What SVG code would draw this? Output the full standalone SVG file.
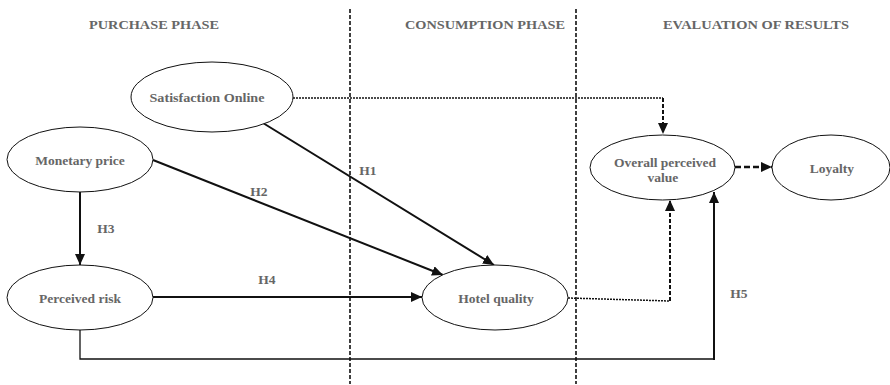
<svg xmlns="http://www.w3.org/2000/svg" width="890" height="385" viewBox="0 0 890 385">
<defs>
<marker id="ah" markerUnits="userSpaceOnUse" markerWidth="12" markerHeight="10" refX="11" refY="5" orient="auto"><path d="M0,0 L11,5 L0,10 Z" fill="#111"/></marker>
</defs>
<style>
.node ellipse{fill:#fff;stroke:#111;stroke-width:1}
text{font-family:"Liberation Serif","Times New Roman",serif;font-weight:bold;fill:#666;text-anchor:middle}
.lbl{font-size:13.5px}
.hdr{font-size:12.5px}
.hyp{font-size:13.5px}
.div{stroke:#111;stroke-width:1.6;stroke-dasharray:4 2;fill:none}
.solid{stroke:#111;stroke-width:2;fill:none}
.thin{stroke:#111;stroke-width:1.3;fill:none}
.dot{stroke:#111;stroke-width:1.5;stroke-dasharray:2 1;fill:none}
.dash{stroke:#111;stroke-width:2;stroke-dasharray:4 2;fill:none}
.dash2{stroke:#111;stroke-width:2.5;stroke-dasharray:6 3;fill:none}
</style>
<rect width="890" height="385" fill="#fff"/>
<g id="headers">
<text class="hdr" x="154" y="29" textLength="130" lengthAdjust="spacingAndGlyphs">PURCHASE PHASE</text>
<text class="hdr" x="485" y="29" textLength="160" lengthAdjust="spacingAndGlyphs">CONSUMPTION PHASE</text>
<text class="hdr" x="756" y="29" textLength="186" lengthAdjust="spacingAndGlyphs">EVALUATION OF RESULTS</text>
</g>
<g id="dividers">
<line class="div" x1="350" y1="9" x2="350" y2="384"/>
<line class="div" x1="576" y1="9" x2="576" y2="384"/>
</g>
<g id="connectors">
<line class="solid" x1="263" y1="123" x2="494" y2="265" marker-end="url(#ah)"/>
<line class="solid" x1="153" y1="160" x2="443" y2="275" marker-end="url(#ah)"/>
<line class="solid" x1="80" y1="192" x2="80" y2="265" marker-end="url(#ah)"/>
<line class="solid" x1="153" y1="297" x2="422" y2="297" marker-end="url(#ah)"/>
<polyline class="thin" points="80,330 80,359 714,359"/>
<line class="solid" x1="714" y1="360" x2="714" y2="192" marker-end="url(#ah)"/>
<line class="dot" x1="293" y1="98" x2="663" y2="98"/>
<line class="dash" x1="663" y1="98" x2="663" y2="134" marker-end="url(#ah)"/>
<polyline class="dot" points="568,298 670,301"/>
<line class="dash" x1="670" y1="301" x2="670" y2="200" marker-end="url(#ah)"/>
<line class="dash2" x1="735" y1="167" x2="772" y2="167" marker-end="url(#ah)"/>
<text class="hyp" x="368" y="175">H1</text>
<text class="hyp" x="259" y="196">H2</text>
<text class="hyp" x="106" y="233">H3</text>
<text class="hyp" x="267" y="284">H4</text>
<text class="hyp" x="739" y="298">H5</text>
</g>
<g id="satisfaction-online" class="node">
<ellipse cx="212" cy="97" rx="81" ry="35"/>
<text class="lbl" x="207" y="102" textLength="115" lengthAdjust="spacingAndGlyphs">Satisfaction Online</text>
</g>
<g id="monetary-price" class="node">
<ellipse cx="80" cy="159.5" rx="73" ry="32.5"/>
<text class="lbl" x="80" y="165">Monetary price</text>
</g>
<g id="perceived-risk" class="node">
<ellipse cx="80" cy="297.5" rx="73" ry="32.5"/>
<text class="lbl" x="80" y="303">Perceived risk</text>
</g>
<g id="hotel-quality" class="node">
<ellipse cx="495" cy="297.5" rx="73" ry="32.5"/>
<text class="lbl" x="496" y="303">Hotel quality</text>
</g>
<g id="overall-perceived-value" class="node">
<ellipse cx="662.5" cy="167.5" rx="72.5" ry="32.5"/>
<text class="lbl" x="665" y="167">Overall  perceived</text>
<text class="lbl" x="663" y="182">value</text>
</g>
<g id="loyalty" class="node">
<ellipse cx="831" cy="167.5" rx="59" ry="32.5"/>
<text class="lbl" x="832" y="173">Loyalty</text>
</g>
</svg>
